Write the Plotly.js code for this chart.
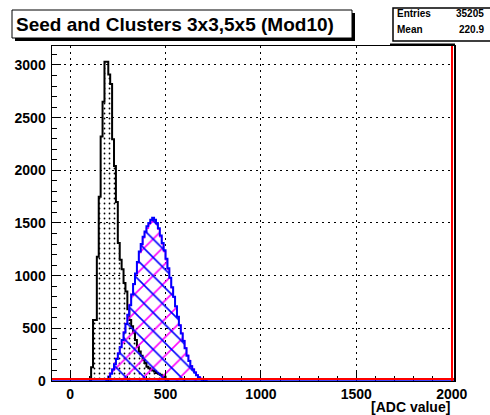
<!DOCTYPE html>
<html>
<head>
<meta charset="utf-8">
<script src="https://cdn.plot.ly/plotly-3.0.1.min.js"></script>
<style>html,body{margin:0;padding:0;background:#fff;}#chart{width:490px;height:415px;}</style>
</head>
<body>
<div id="chart"></div>
<script>
// ---- data ----
const binWidth = 10;
// Seed histogram (black, dotted fill): bins starting at 100 ADC
const seedStart = 100;
const seedValues = [0,130,580,580,1180,1750,2320,2650,3030,3030,2910,2820,2295,2040,1700,1310,1150,1060,930,850,680,580,520,460,390,325,280,240,200,170,135,120,110,100,90,75,70,60,50,40,20,0];
// Cluster 3x3 histogram (blue, "\" hatch): bins starting at 190 ADC
const clu3Start = 190;
const clu3Values = [10,40,70,110,160,210,260,320,390,460,540,630,720,820,920,1020,1130,1230,1300,1370,1420,1470,1500,1530,1550,1530,1500,1450,1380,1310,1240,1160,1070,980,890,800,710,610,530,450,380,310,240,190,140,110,80,55,35,20,10,5,0];
// Cluster 5x5 histogram (magenta, "/" hatch): bins starting at 190 ADC
const clu5Start = 190;
const clu5Values = [15,45,75,115,165,215,265,325,390,465,545,630,725,820,915,1015,1120,1220,1290,1360,1410,1450,1490,1510,1520,1510,1490,1440,1370,1300,1230,1150,1060,975,885,795,705,610,530,455,385,315,245,195,145,115,85,60,40,25,15,5,0];
const xTicks = [0,500,1000,1500,2000];
const yTicks = [0,500,1000,1500,2000,2500,3000];
const titleText = "Seed and Clusters 3x3,5x5 (Mod10)";
const statsLabels = ["Entries","Mean"];
const statsValues = ["35205","220.9"];
const xTitle = "[ADC value]";

function stepXY(start, vals){
  const xs = [start], ys = [0];
  for (let i = 0; i < vals.length; i++){ xs.push(start + i*binWidth); ys.push(vals[i]); }
  xs.push(start + vals.length*binWidth); ys.push(0);
  return {x: xs, y: ys};
}

const s = stepXY(seedStart, seedValues);
const c5 = stepXY(clu5Start, clu5Values);
const c3 = stepXY(clu3Start, clu3Values);

const traces = [
  {x: s.x, y: s.y, type:'scatter', mode:'lines', line:{shape:'hv', color:'black', width:2},
   fill:'tozeroy', fillcolor:'rgba(0,0,0,0)',
   fillpattern:{shape:'.', fgcolor:'black', bgcolor:'rgba(255,255,255,0)', size:5, solidity:0.1}, hoverinfo:'skip'},
  {x: c5.x, y: c5.y, type:'scatter', mode:'lines', line:{shape:'hv', color:'#ff00ff', width:1.5},
   fill:'tozeroy', fillcolor:'rgba(0,0,0,0)',
   fillpattern:{shape:'/', fgcolor:'#ff00ff', bgcolor:'rgba(255,255,255,0)', size:13, solidity:0.12}, hoverinfo:'skip'},
  {x: c3.x, y: c3.y, type:'scatter', mode:'lines', line:{shape:'hv', color:'#0000ff', width:2},
   fill:'tozeroy', fillcolor:'rgba(0,0,0,0)',
   fillpattern:{shape:'\\', fgcolor:'#0000ff', bgcolor:'rgba(255,255,255,0)', size:13, solidity:0.12}, hoverinfo:'skip'}
];

const W = 490, H = 415, L = 52, R = 36, T = 46, B = 34;
const pw = W - L - R, ph = H - T - B;
const px = v => (v - L) / pw;
const py = v => (H - B - v) / ph;

const tickFont = {family:'Liberation Sans, Arial, sans-serif', size:14, color:'black', weight:'bold'};

const layout = {
  width: W, height: H,
  margin: {l:L, r:R, t:T, b:B, pad:0},
  paper_bgcolor:'white', plot_bgcolor:'white',
  showlegend:false,
  xaxis: {
    range:[-95, 2012], tickmode:'array', tickvals: xTicks, ticktext: xTicks.map(String),
    ticks:'inside', ticklen:9, tickwidth:1, tickcolor:'black',
    showline:true, linecolor:'black', linewidth:1, mirror:true,
    showgrid:true, gridcolor:'black', gridwidth:1, griddash:'2px,4px',
    zeroline:false, tickfont: tickFont,
    minor:{ticks:'inside', ticklen:5, dtick:100, tick0:0, tickcolor:'black', showgrid:false}
  },
  yaxis: {
    range:[0, 3180], tickmode:'array', tickvals: yTicks, ticktext: yTicks.map(String),
    ticks:'inside', ticklen:9, tickwidth:1, tickcolor:'black',
    showline:true, linecolor:'black', linewidth:1.5, mirror:true,
    showgrid:true, gridcolor:'black', gridwidth:1, griddash:'2px,4px',
    zeroline:false, tickfont: tickFont, ticklabelstandoff:2,
    minor:{ticks:'inside', ticklen:5, dtick:100, tick0:0, tickcolor:'black', showgrid:false}
  },
  shapes: [
    {type:'line', xref:'paper', yref:'y', x0:0, x1:1, y0:0, y1:0, line:{color:'#0000ff', width:1.5}},
    {type:'line', xref:'paper', yref:'y', ysizemode:'pixel', yanchor:0, x0:0, x1:1, y0:2, y1:2, line:{color:'red', width:2}},
    {type:'line', xref:'paper', xsizemode:'pixel', xanchor:1, x0:-2, x1:-2, yref:'paper', y0:0, y1:1, line:{color:'red', width:2}},
    {type:'rect', xref:'paper', yref:'paper', x0:px(15), x1:px(355), y0:py(41), y1:py(13), fillcolor:'black', line:{width:0}},
    {type:'rect', xref:'paper', yref:'paper', x0:px(12), x1:px(352), y0:py(38), y1:py(10), fillcolor:'white', line:{color:'black', width:1}},
    {type:'line', xref:'paper', yref:'paper', x0:px(390), x1:px(455), y0:py(44.5), y1:py(44.5), line:{color:'black', width:2}},
    {type:'rect', xref:'paper', yref:'paper', x0:px(393), x1:px(495), y0:py(41), y1:py(8), fillcolor:'white', line:{color:'black', width:1.5}}
  ],
  annotations: [
    {xref:'paper', yref:'paper', x:px(14), y:py(24.5), xanchor:'left', yanchor:'middle', showarrow:false,
     text:titleText, font:{family:'Liberation Sans, Arial, sans-serif', size:19, color:'black', weight:'bold'}},
    {xref:'paper', yref:'paper', x:px(395), y:py(14), xanchor:'left', yanchor:'middle', showarrow:false,
     text:statsLabels[0], font:{family:'Liberation Sans, Arial, sans-serif', size:10, color:'black', weight:'bold'}},
    {xref:'paper', yref:'paper', x:px(486), y:py(14), xanchor:'right', yanchor:'middle', showarrow:false,
     text:statsValues[0], font:{family:'Liberation Sans, Arial, sans-serif', size:10, color:'black', weight:'bold'}},
    {xref:'paper', yref:'paper', x:px(395), y:py(30), xanchor:'left', yanchor:'middle', showarrow:false,
     text:statsLabels[1], font:{family:'Liberation Sans, Arial, sans-serif', size:10, color:'black', weight:'bold'}},
    {xref:'paper', yref:'paper', x:px(486), y:py(30), xanchor:'right', yanchor:'middle', showarrow:false,
     text:statsValues[1], font:{family:'Liberation Sans, Arial, sans-serif', size:10, color:'black', weight:'bold'}},
    {xref:'paper', yref:'paper', x:px(452), y:py(406.5), xanchor:'right', yanchor:'middle', showarrow:false,
     text:xTitle, font:{family:'Liberation Sans, Arial, sans-serif', size:14, color:'black', weight:'bold'}}
  ]
};

Plotly.newPlot('chart', traces, layout, {displayModeBar:false, staticPlot:true});
</script>
</body>
</html>
